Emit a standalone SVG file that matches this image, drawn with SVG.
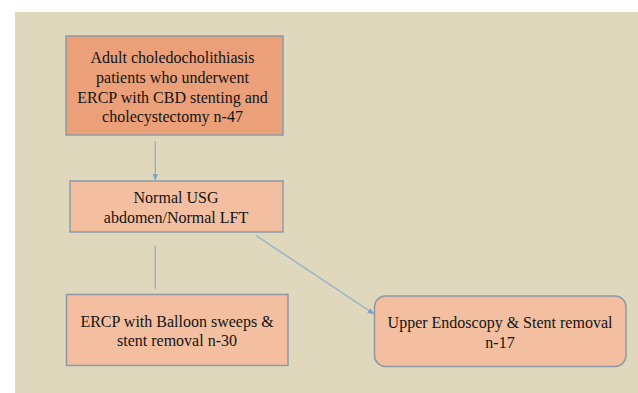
<svg xmlns="http://www.w3.org/2000/svg" width="638" height="393" viewBox="0 0 638 393">
<style>
.box{stroke:#8d9aa6;stroke-width:1.5}
.dark{fill:#eba07a}
.light{fill:#f3bfa0}
.t{font-family:"Liberation Serif",serif;font-size:16px;fill:#141414;text-anchor:middle}
.c{stroke:#8fb0c8;stroke-width:1.3;fill:none}
</style>
<defs>
<marker id="ah" viewBox="0 0 10 10" refX="9" refY="5" markerWidth="7" markerHeight="7" markerUnits="userSpaceOnUse" orient="auto">
<path d="M0,1 L10,5 L0,9 z" fill="#7fa3c4"/>
</marker>
</defs>
<rect x="15" y="12" width="623" height="381" fill="#dfd8bc"/>
<g id="connectors">
<line class="c" x1="155.3" y1="141" x2="155.3" y2="180" marker-end="url(#ah)"/>
<line class="c" x1="155.3" y1="245.5" x2="155.3" y2="289"/>
<line class="c" x1="256" y1="235.5" x2="374" y2="314" marker-end="url(#ah)"/>
</g>
<g id="n1">
<rect class="box dark" x="66" y="36" width="217" height="99"/>
<text class="t" x="172.5" y="62.5">Adult choledocholithiasis</text>
<text class="t" x="172.5" y="82.5">patients who underwent</text>
<text class="t" x="172.5" y="102.5">ERCP with CBD stenting and</text>
<text class="t" x="172.5" y="121.5">cholecystectomy n-47</text>
</g>
<g id="n2">
<rect class="box light" x="70" y="181" width="213" height="51"/>
<text class="t" x="176" y="202.5">Normal USG</text>
<text class="t" x="176" y="222.5">abdomen/Normal LFT</text>
</g>
<g id="n3">
<rect class="box light" x="66.5" y="294.5" width="221.5" height="71"/>
<text class="t" x="177" y="326.5">ERCP with Balloon sweeps &amp;</text>
<text class="t" x="177" y="345.5">stent removal n-30</text>
</g>
<g id="n4">
<rect class="box light" x="374.5" y="296" width="251.5" height="70.5" rx="11" ry="11"/>
<text class="t" x="500" y="327.5">Upper Endoscopy &amp; Stent removal</text>
<text class="t" x="500" y="347.5">n-17</text>
</g>
</svg>
